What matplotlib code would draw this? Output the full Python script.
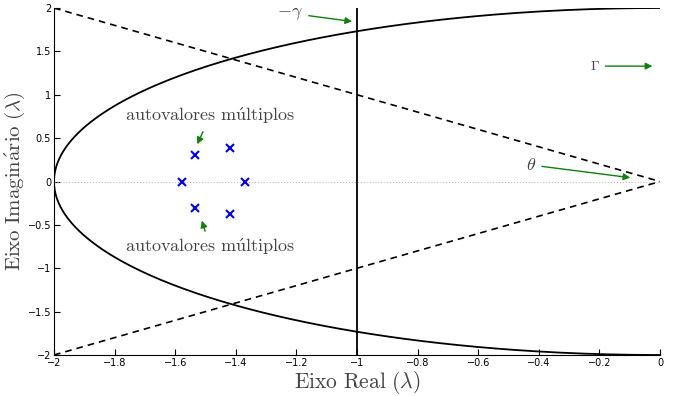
import numpy as np
import matplotlib
matplotlib.use("Agg")
import matplotlib.pyplot as plt

plt.rcParams['mathtext.fontset'] = 'cm'

# data
eig_re = [-1.535, -1.535, -1.578, -1.370, -1.419, -1.419]
eig_im = [0.305, -0.305, 0.0, 0.0, 0.386, -0.375]
radius = 2.0
gamma_x = -1.0
xticks = [-2, -1.8, -1.6, -1.4, -1.2, -1, -0.8, -0.6, -0.4, -0.2, 0]
xticklabels = ['−2', '−1.8', '−1.6', '−1.4', '−1.2', '−1', '−0.8', '−0.6', '−0.4', '−0.2', '0']
yticks = [-2, -1.5, -1, -0.5, 0, 0.5, 1, 1.5, 2]
yticklabels = ['−2', '−1.5', '−1', '−0.5', '0', '0.5', '1', '1.5', '2']

fig = plt.figure(figsize=(6.88, 3.96), dpi=100)
ax = fig.add_axes([54/688, 1-355/396, 606/688, 347/396])

t = np.linspace(np.pi/2, 3*np.pi/2, 400)
ax.plot(radius*np.cos(t), radius*np.sin(t), color='black', lw=1.3)
ax.plot([-2, 0], [2, 0], color='black', lw=1.2, ls=(0, (4, 3)))
ax.plot([-2, 0], [-2, 0], color='black', lw=1.2, ls=(0, (4, 3)))
ax.axvline(gamma_x, color='black', lw=1.3)
ax.axhline(0, color='#bbbbbb', lw=0.8, ls=':')
ax.axvline(0, color='#bbbbbb', lw=0.8, ls=':')
ax.plot(eig_re, eig_im, 'x', color='blue', ms=6, mew=1.5, ls='none')

green = '#108010'
ap = dict(arrowstyle='-|>', color=green, lw=1.0, mutation_scale=10)
ax.annotate(r'$-\gamma$', xy=(-1.007, 1.84), xytext=(-1.22, 1.94), fontsize=13,
            color='#444444', ha='center', va='center', arrowprops=ap)
ax.annotate(r'$\Gamma$', xy=(-0.016, 1.33), xytext=(-0.215, 1.33), fontsize=10,
            color='#444444', ha='center', va='center', arrowprops=ap)
ax.annotate(r'$\theta$', xy=(-0.089, 0.04), xytext=(-0.425, 0.19), fontsize=13,
            color='#444444', ha='center', va='center', arrowprops=ap)
ax.annotate(r'$\mathrm{autovalores\ m\acute{u}ltiplos}$', xy=(-1.531, 0.40), xytext=(-1.485, 0.755),
            fontsize=13, color='#444444', ha='center', va='center', arrowprops=ap)
ax.annotate(r'$\mathrm{autovalores\ m\acute{u}ltiplos}$', xy=(-1.515, -0.42), xytext=(-1.485, -0.755),
            fontsize=13, color='#444444', ha='center', va='center', arrowprops=ap)

ax.set_xlim(-2, 0)
ax.set_ylim(-2, 2)
ax.set_xticks(xticks)
ax.set_xticklabels(xticklabels)
ax.set_yticks(yticks)
ax.set_yticklabels(yticklabels)
ax.tick_params(direction='in', labelsize=7, length=4, width=0.8, pad=2)
for s in ['top', 'right']:
    ax.spines[s].set_visible(False)
ax.set_xlabel(r'$\mathrm{Eixo\ Real}\ (\lambda)$', fontsize=15.5, color='#444444', labelpad=1)
ax.set_ylabel(r'$\mathrm{Eixo\ Imagin\acute{a}rio}\ (\lambda)$', fontsize=15, color='#444444')
ax.yaxis.set_label_coords(-39/606, 0.5)
ax.yaxis.label.set_va('center')

fig.savefig('out.png', dpi=100)
